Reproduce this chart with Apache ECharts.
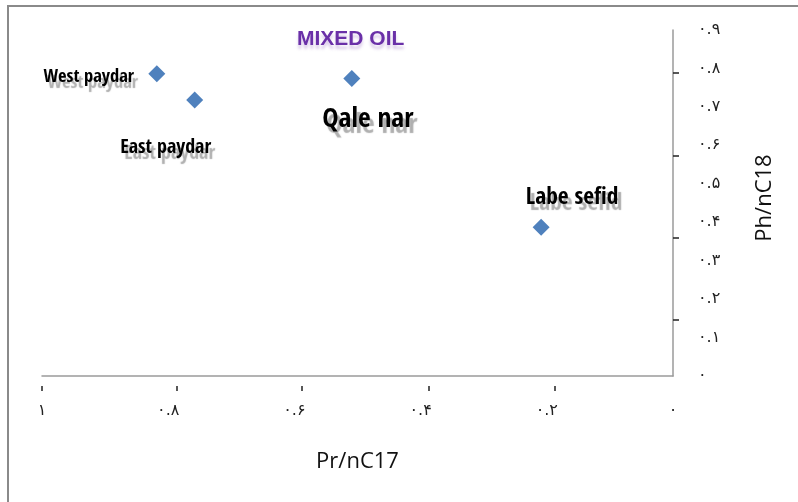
<!DOCTYPE html>
<html>
<head>
<meta charset="utf-8">
<script src="https://cdn.jsdelivr.net/npm/echarts@6/dist/echarts.min.js"></script>
<style>html,body{margin:0;padding:0;background:#fff}#c{width:798px;height:502px}</style>
</head>
<body>
<div id="c"></div>
<script>
// ---- data ----
const pointNames = ['West paydar', 'East paydar', 'Qale nar', 'Labe sefid'];
const prNC17 = [0.818, 0.758, 0.509, 0.209];
const phNC18 = [0.786, 0.718, 0.774, 0.387];
const xTickValues = [1, 0.786, 0.589, 0.387, 0.187];
const yTickValues = [0.146, 0.36, 0.574, 0.788];
const chartTitle = 'MIXED OIL';
const xName = 'Pr/nC17';
const yName = 'Ph/nC18';

// ---- label styling (presentation only) ----
const labelStyle = {
  'West paydar': { offset: [-68, 3], fontSize: 18.5 },
  'East paydar': { offset: [-29, 48], fontSize: 20 },
  'Qale nar':    { offset: [16, 41], fontSize: 27.5 },
  'Labe sefid':  { offset: [31, -29], fontSize: 23.5 }
};

const persianDigits = '۰۱۲۳۴۵۶۷۸۹';
function toPersian(v) {
  const s = String(Number(v.toFixed(1)));
  return s.replace(/[0-9]/g, d => persianDigits[+d]);
}

const points = pointNames.map((n, i) => {
  const st = labelStyle[n];
  return {
    name: n,
    value: [prNC17[i], phNC18[i]],
    label: {
      show: true,
      formatter: n,
      position: 'inside',
      align: 'center',
      verticalAlign: 'middle',
      offset: st.offset,
      fontSize: st.fontSize,
      fontFamily: "'Open Sans Condensed', Lato, sans-serif",
      fontWeight: 900,
      color: '#000',
      textShadowColor: 'rgba(110,110,110,0.55)',
      textShadowOffsetX: 4,
      textShadowOffsetY: 6,
      textShadowBlur: 1
    }
  };
});

const chart = echarts.init(document.getElementById('c'), null, { renderer: 'canvas' });
chart.setOption({
  backgroundColor: '#fff',
  animation: false,
  title: {
    text: chartTitle,
    left: 292,
    top: 24,
    textStyle: {
      color: '#6a30a8',
      fontSize: 21,
      fontWeight: 'bold',
      fontFamily: "'Liberation Sans', sans-serif",
      textShadowColor: 'rgba(106,48,168,0.25)',
      textShadowOffsetY: 4,
      textShadowBlur: 3
    }
  },
  graphic: [{
    type: 'rect',
    shape: { x: 8, y: 6, width: 900, height: 600 },
    style: { fill: 'none', stroke: '#8a8a8a', lineWidth: 2 },
    silent: true
  }],
  grid: { left: 42, right: 125, top: 30, bottom: 126 },
  xAxis: [{
    type: 'value', min: 0, max: 1, inverse: true, position: 'bottom',
    axisLine: { show: true, lineStyle: { color: '#9a9a9a', width: 1.5 } },
    axisTick: { show: false },
    axisLabel: { show: false },
    splitLine: { show: false },
    name: xName, nameLocation: 'middle', nameGap: 75,
    nameTextStyle: { fontSize: 22, color: '#111', fontFamily: "'Open Sans', sans-serif" }
  }, {
    type: 'value', min: 0, max: 1, interval: 0.2, inverse: true, position: 'bottom', offset: 10,
    axisLine: { show: false },
    axisTick: { show: true, length: 5, customValues: xTickValues, lineStyle: { color: '#222', width: 1.5 } },
    axisLabel: { margin: 17, fontSize: 16, color: '#222', fontFamily: "'DejaVu Sans', sans-serif", formatter: toPersian },
    splitLine: { show: false }
  }],
  yAxis: {
    type: 'value', min: 0, max: 0.9, interval: 0.1, position: 'right',
    axisLine: { show: true, lineStyle: { color: '#9a9a9a', width: 1.5 } },
    axisTick: { show: true, length: 6, customValues: yTickValues, lineStyle: { color: '#222', width: 1.5 } },
    axisLabel: { margin: 25, fontSize: 16, color: '#222', fontFamily: "'DejaVu Sans', sans-serif", formatter: toPersian },
    splitLine: { show: false },
    name: yName, nameLocation: 'middle', nameRotate: 90, nameGap: 81,
    nameTextStyle: { fontSize: 22, color: '#111', fontFamily: "'Open Sans', sans-serif", padding: [0, 0, 0, 10] }
  },
  series: [{
    type: 'scatter',
    xAxisIndex: 0,
    symbol: 'diamond',
    symbolSize: 17,
    itemStyle: { color: '#4f81bd', opacity: 1 },
    data: points
  }]
});
</script>
</body>
</html>
